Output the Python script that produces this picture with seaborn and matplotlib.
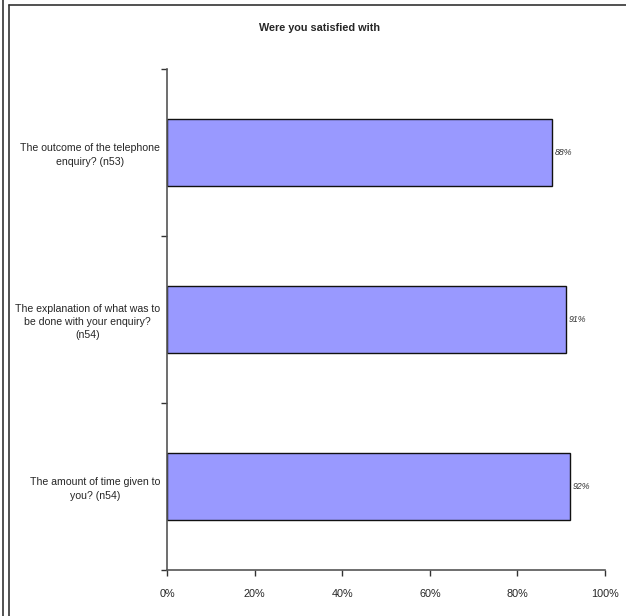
import matplotlib
matplotlib.use("Agg")
import matplotlib.pyplot as plt
from matplotlib.lines import Line2D
from matplotlib.ticker import FuncFormatter
import pandas as pd
import seaborn as sns

questions = [
    "The outcome of the telephone\nenquiry? (n53)",
    "The explanation of what was to\nbe done with your enquiry?\n(n54)",
    "The amount of time given to\nyou? (n54)",
]
satisfied = [88, 91, 92]
title = "Were you satisfied with"

sns.set_style("white")
plt.rcParams['font.family'] = ['Liberation Sans', 'DejaVu Sans']

df = pd.DataFrame({"question": questions, "pct": satisfied})

fig = plt.figure(figsize=(6.26, 6.16), dpi=100)
ax = fig.add_axes([0.2668, 0.0747, 0.6997, 0.8133])

sns.barplot(data=df, x="pct", y="question", orient="h", color="#9999FF",
            saturation=1, edgecolor="#111111", linewidth=1, width=0.4, ax=ax)

ax.set_xlim(0, 100)
ax.set_ylim(2.5, -0.5)
ax.set_xticks(range(0, 101, 20))
ax.xaxis.set_major_formatter(FuncFormatter(lambda v, p: f"{v:.0f}%"))
ax.set_yticks([-0.5, 0.5, 1.5, 2.5])
ax.set_yticklabels([])
ax.set_yticks(range(len(questions)), minor=True)
ax.set_yticklabels(questions, minor=True, multialignment="center", linespacing=1.4)
ax.tick_params(axis="y", which="minor", length=0, pad=5, labelsize=7.6)
ax.tick_params(axis="y", which="major", length=4, width=1, color="#333333", left=True)
ax.tick_params(axis="x", length=4, width=1, color="#333333", bottom=True,
               labelsize=7.8, pad=10)
ax.set_xlabel("")
ax.set_ylabel("")

for s in ["top", "right"]:
    ax.spines[s].set_visible(False)
for s in ["left", "bottom"]:
    ax.spines[s].set_color("#555555")
    ax.spines[s].set_linewidth(1.2)

for i, v in enumerate(satisfied):
    ax.text(v + 0.6, i, f"{v}%", va="center", ha="left", fontsize=6.3,
            style="italic", color="#333333")

fig.text(0.51, 0.954, title, ha="center", va="center", fontsize=7.8,
         fontweight="bold")

# frame around the chart
fig.add_artist(Line2D([0.0145, 0.0145], [0, 0.992], color="#333333", lw=1.2))
fig.add_artist(Line2D([0.0145, 1.0], [0.992, 0.992], color="#333333", lw=1.2))
fig.add_artist(Line2D([0.005, 0.005], [0, 1], color="#333333", lw=1.2))

fig.savefig("out.png", dpi=100)
